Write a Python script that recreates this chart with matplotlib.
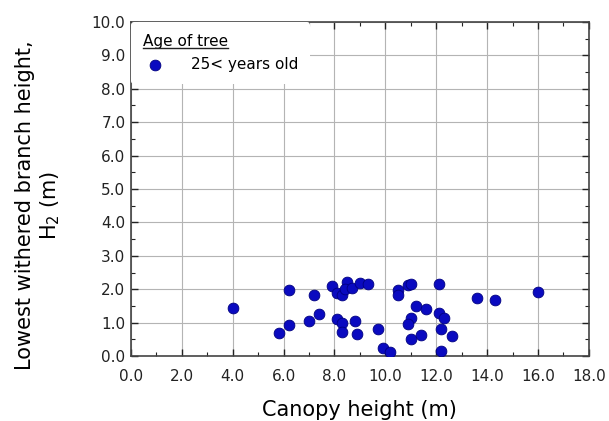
import matplotlib
matplotlib.use('Agg')
import matplotlib.pyplot as plt
from matplotlib.ticker import MultipleLocator, FormatStrFormatter
from matplotlib.lines import Line2D

plt.rcParams['font.family'] = ['DejaVu Sans', 'Noto Sans CJK JP']

# Canopy height (m) and lowest withered branch height H2 (m), trees older than 25 years
canopy_height = [4.0, 5.8, 6.2, 6.2, 7.0, 7.2, 7.4, 7.9, 8.1, 8.3,
                 8.5, 8.4, 8.7, 9.0, 9.3, 8.1, 8.3, 8.3, 8.8, 8.9,
                 9.7, 9.9, 10.2, 10.5, 10.5, 10.9, 11.0, 12.1, 11.2, 11.6,
                 12.1, 12.3, 11.0, 10.9, 12.2, 12.6, 11.0, 11.4, 12.2, 13.6,
                 14.3, 16.0]
branch_height = [1.45, 0.68, 1.97, 0.92, 1.05, 1.83, 1.27, 2.10, 1.88, 1.83,
                 2.22, 2.00, 2.05, 2.18, 2.16, 1.12, 0.98, 0.73, 1.06, 0.66,
                 0.82, 0.23, 0.11, 1.98, 1.83, 2.13, 2.15, 2.16, 1.51, 1.40,
                 1.28, 1.13, 1.13, 0.95, 0.80, 0.60, 0.50, 0.63, 0.16, 1.75,
                 1.68, 1.91]
series_label = '25< years old'
legend_title = 'Age of tree'

fig = plt.figure(figsize=(6.09, 4.21), dpi=100)
ax = fig.add_axes([0.215, 0.154, 0.752, 0.794])

ax.scatter(canopy_height, branch_height, s=60, color='#0a0ac0',
           edgecolors='#000080', linewidths=0.6, zorder=3, label=series_label)

ax.set_xlim(0, 18)
ax.set_ylim(0, 10)
ax.xaxis.set_major_locator(MultipleLocator(2))
ax.xaxis.set_minor_locator(MultipleLocator(1))
ax.yaxis.set_major_locator(MultipleLocator(1))
ax.yaxis.set_minor_locator(MultipleLocator(0.5))
ax.xaxis.set_major_formatter(FormatStrFormatter('%.1f'))
ax.yaxis.set_major_formatter(FormatStrFormatter('%.1f'))

ax.tick_params(which='both', direction='in', top=True, right=True,
               labelsize=11, colors='#222222')
ax.tick_params(which='major', length=5, width=1)
ax.tick_params(which='minor', length=3, width=0.8)
ax.tick_params(axis='x', pad=9)
ax.tick_params(axis='y', pad=4)
for sp in ax.spines.values():
    sp.set_color('#444444')
    sp.set_linewidth(1.2)

ax.grid(True, which='major', color='#b4b4b4', linewidth=0.8, zorder=0)

ax.set_xlabel('Canopy height (m)', fontsize=15, labelpad=12)
ax.set_ylabel('Lowest withered branch height,\nH$_2$ (m)', fontsize=15,
              linespacing=1.2)
ax.yaxis.set_label_coords(-0.151, 0.452)

leg = ax.legend(title=legend_title, loc='upper left', frameon=True,
                fontsize=11, title_fontsize=11, handletextpad=1.6,
                borderaxespad=0.0, borderpad=0.8, handlelength=1.5,
                alignment='left')
leg.get_frame().set_edgecolor('none')
leg.get_frame().set_facecolor('white')
leg.get_frame().set_alpha(1.0)
leg.set_zorder(4)

# underline the legend title
fig.canvas.draw()
bb = leg.get_title().get_window_extent()
x0, y0 = fig.transFigure.inverted().transform((bb.x0, bb.y0 + 1))
x1, _ = fig.transFigure.inverted().transform((bb.x1, bb.y0 + 1))
fig.add_artist(Line2D([x0, x1], [y0, y0], color='#222222', linewidth=1.0,
                      transform=fig.transFigure, zorder=6))

fig.savefig('out.png', dpi=100)
